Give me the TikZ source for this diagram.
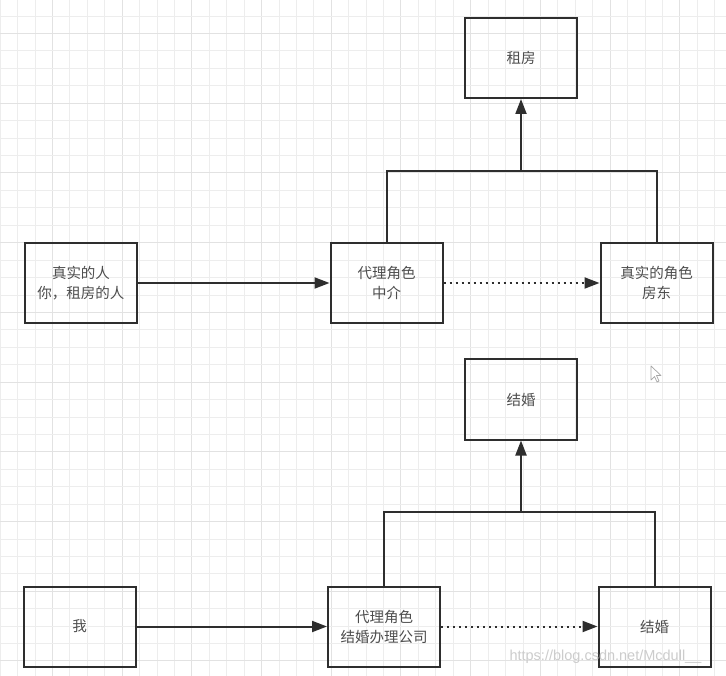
\documentclass[tikz,border=0pt]{standalone}
\usepackage{fontspec}
\setmainfont{Noto Sans CJK SC}
\newfontfamily\wmfont{Liberation Sans}
\usetikzlibrary{arrows.meta}
\definecolor{minorgrid}{HTML}{EDEDED}
\definecolor{majorgrid}{HTML}{E2E2E2}
\definecolor{ink}{HTML}{2E2E2E}
\tikzset{
  box/.style={draw=ink, line width=2pt, minimum width=112pt, minimum height=80pt, inner sep=0pt, align=center, font=\fontsize{14.5}{20}\selectfont, text=ink!85},
  link/.style={draw=ink, line width=2pt},
  arr/.style={link, -{Triangle[length=15pt,width=11pt]}},
  dotarr/.style={draw=ink, line width=2pt, dash pattern=on 2pt off 4pt, -{Triangle[length=15pt,width=11pt]}}
}
\begin{document}
\begin{tikzpicture}[x=1pt,y=-1pt]
\useasboundingbox (0,0) rectangle (726,676);
\fill[white] (0,0) rectangle (726,676);
% grid
\foreach \i in {0,...,42} {
  \pgfmathsetmacro{\gx}{0.1+\i*17.43}
  \pgfmathtruncatemacro{\m}{mod(\i,4)}
  \ifnum\m=3 \draw[majorgrid, line width=1pt] (\gx,0) -- (\gx,676);
  \else \draw[minorgrid, line width=0.8pt] (\gx,0) -- (\gx,676); \fi
}
\foreach \i in {0,...,39} {
  \pgfmathsetmacro{\gy}{-1.4+\i*17.43}
  \pgfmathtruncatemacro{\m}{mod(\i,4)}
  \ifnum\m=2 \draw[majorgrid, line width=1pt] (0,\gy) -- (726,\gy);
  \else \draw[minorgrid, line width=0.8pt] (0,\gy) -- (726,\gy); \fi
}
% top diagram
\node[box] (zf) at (521,58) {租房};
\node[box] (ren) at (81,283) {真实的人\\你，租房的人};
\node[box] (zj) at (386.5,283) {代理角色\\中介};
\node[box] (fd) at (656.5,283) {真实的角色\\房东};
\coordinate (j1) at (521,171);
\draw[arr] (ren.east) -- (zj.west);
\draw[dotarr] (zj.east) -- (fd.west);
\draw[link] (zj.north) |- (j1) -| (fd.north);
\draw[arr] (j1) -- (zf.south);
% bottom diagram
\node[box] (jh1) at (521,399.5) {结婚};
\node[box] (wo) at (79.5,626.5) {我};
\node[box] (gs) at (384,626.5) {代理角色\\结婚办理公司};
\node[box] (jh2) at (654.5,626.5) {结婚};
\coordinate (j2) at (521,512);
\draw[arr] (wo.east) -- (gs.west);
\draw[dotarr] (gs.east) -- (jh2.west);
\draw[link] (gs.north) |- (j2) -| (jh2.north);
\draw[arr] (j2) -- (jh1.south);
% watermark
\node[anchor=west, text=gray!40, font=\fontsize{14.5}{16}\selectfont\wmfont] (wm) at (506,657) {https://blog.csdn.net/Mcdull\_\_};
% cursor
\draw[gray!70, line width=0.7pt, fill=white, line join=round] (651,366) -- (651,380) -- (654.5,376.5) -- (657,382) -- (659,381) -- (656.5,375.5) -- (661,375.5) -- cycle;
\end{tikzpicture}
\end{document}
